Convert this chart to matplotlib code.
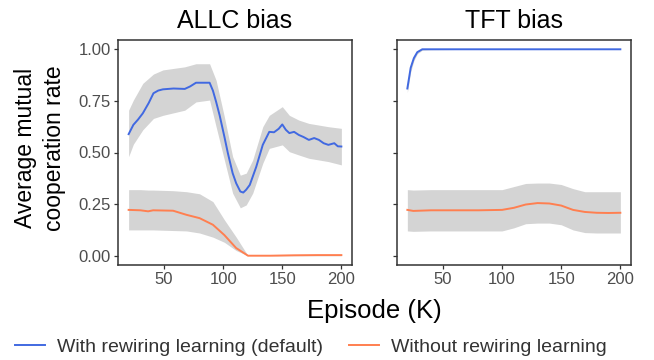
import matplotlib.pyplot as plt
import numpy as np

plt.rcParams['font.family'] = ['Liberation Sans', 'DejaVu Sans']

BLUE = '#4169e1'
ORANGE = '#ff7f50'
RIBBON = '#d4d4d4'

# ALLC bias, with rewiring learning
allc_rw_ep = [20, 24, 28, 32, 37, 41, 45, 49, 58, 67.5, 72, 77, 88.5, 91.3, 94, 97, 101, 104,
              108, 111, 114.5, 117, 119.5, 122.5, 125, 128, 133.5, 139, 143, 147, 150, 153, 156,
              160, 164, 168, 172.5, 177, 181, 185, 189, 194, 197, 200]
allc_rw = [0.589, 0.634, 0.66, 0.69, 0.74, 0.787, 0.80, 0.806, 0.81, 0.808, 0.82, 0.838, 0.838,
           0.80, 0.746, 0.68, 0.577, 0.496, 0.40, 0.351, 0.311, 0.306, 0.32, 0.343, 0.383, 0.431,
           0.537, 0.60, 0.598, 0.615, 0.636, 0.61, 0.594, 0.60, 0.585, 0.575, 0.561, 0.57, 0.561,
           0.545, 0.537, 0.545, 0.53, 0.529]
allc_rw_ep_band = [20, 24, 32, 41, 49, 67.5, 77, 88.5, 94, 101, 108, 114.5, 119.5, 125, 133.5,
                   139, 150, 156, 164, 172.5, 189, 200]
allc_rw_lo = [0.48, 0.54, 0.61, 0.665, 0.68, 0.705, 0.745, 0.754, 0.625, 0.464, 0.303, 0.232,
              0.246, 0.303, 0.448, 0.52, 0.537, 0.504, 0.488, 0.472, 0.456, 0.44]
allc_rw_hi = [0.705, 0.754, 0.835, 0.88, 0.90, 0.915, 0.93, 0.93, 0.85, 0.673, 0.48, 0.39,
              0.40, 0.464, 0.625, 0.68, 0.722, 0.68, 0.657, 0.641, 0.625, 0.617]

# ALLC bias, without rewiring learning
allc_no_ep = [20, 30, 36.5, 40.7, 57.6, 69, 80, 91.3, 101, 111, 121, 140, 160, 180, 200]
allc_no = [0.222, 0.22, 0.215, 0.22, 0.218, 0.198, 0.182, 0.15, 0.10, 0.037, 0.0, 0.0, 0.002,
           0.003, 0.003]
allc_no_lo = [0.125, 0.125, 0.125, 0.125, 0.122, 0.12, 0.11, 0.09, 0.065, 0.025, 0.0, 0.0, 0.0,
              0.0, 0.0]
allc_no_hi = [0.32, 0.32, 0.318, 0.318, 0.315, 0.31, 0.30, 0.262, 0.174, 0.09, 0.0, 0.0, 0.004,
              0.005, 0.005]

# TFT bias, with rewiring learning
tft_rw_ep = [20, 22.8, 25.5, 28.4, 32.6, 40, 60, 100, 150, 200]
tft_rw = [0.81, 0.91, 0.957, 0.986, 1.0, 1.0, 1.0, 1.0, 1.0, 1.0]
tft_rw_lo = [0.79, 0.89, 0.945, 0.978, 0.996, 0.998, 0.999, 0.999, 0.999, 0.999]
tft_rw_hi = [0.83, 0.93, 0.968, 0.994, 1.0, 1.0, 1.0, 1.0, 1.0, 1.0]

# TFT bias, without rewiring learning
tft_no_ep = [20, 25, 40, 60, 80, 100, 110, 120, 130, 140, 150, 160, 170, 180, 190, 200]
tft_no = [0.222, 0.217, 0.22, 0.22, 0.22, 0.222, 0.232, 0.248, 0.255, 0.253, 0.243, 0.222,
          0.212, 0.208, 0.207, 0.208]
tft_no_lo = [0.12, 0.118, 0.12, 0.12, 0.12, 0.12, 0.135, 0.155, 0.158, 0.158, 0.15, 0.125,
             0.112, 0.11, 0.11, 0.11]
tft_no_hi = [0.32, 0.318, 0.32, 0.32, 0.32, 0.32, 0.335, 0.35, 0.352, 0.352, 0.345, 0.325,
             0.31, 0.31, 0.31, 0.31]

titles = ['ALLC bias', 'TFT bias']
x_ticks = [50, 100, 150, 200]
y_ticks = [0.0, 0.25, 0.5, 0.75, 1.0]
y_tick_labels = ['0.00', '0.25', '0.50', '0.75', '1.00']

fig = plt.figure(figsize=(6.54, 3.6), dpi=100)
ax1 = fig.add_axes([118 / 654, 1 - 265 / 360, 234 / 654, 225 / 360])
ax2 = fig.add_axes([396.7 / 654, 1 - 265 / 360, 234.3 / 654, 225 / 360])

# left panel
ax1.fill_between(allc_rw_ep_band, allc_rw_lo, allc_rw_hi, color=RIBBON, lw=0)
ax1.fill_between(allc_no_ep, allc_no_lo, allc_no_hi, color=RIBBON, lw=0)
ax1.plot(allc_rw_ep, allc_rw, color=BLUE, lw=1.4, solid_joinstyle='round')
ax1.plot(allc_no_ep, allc_no, color=ORANGE, lw=1.4, solid_joinstyle='round')

# right panel
ax2.fill_between(tft_rw_ep, tft_rw_lo, tft_rw_hi, color=RIBBON, lw=0)
ax2.fill_between(tft_no_ep, tft_no_lo, tft_no_hi, color=RIBBON, lw=0)
l1, = ax2.plot(tft_rw_ep, tft_rw, color=BLUE, lw=1.4, solid_joinstyle='round')
l2, = ax2.plot(tft_no_ep, tft_no, color=ORANGE, lw=1.4, solid_joinstyle='round')

for ax, t in zip([ax1, ax2], titles):
    ax.set_xlim(11, 209)
    ax.set_ylim(-0.045, 1.045)
    ax.set_xticks(x_ticks)
    ax.set_yticks(y_ticks)
    ax.set_title(t, fontsize=18, pad=9)
    for s in ax.spines.values():
        s.set_color('#333333')
        s.set_linewidth(1.1)
    ax.tick_params(length=3, width=0.9, color='#333333', labelcolor='#4d4d4d',
                   labelsize=12, pad=2)

ax1.set_yticklabels(y_tick_labels)
ax2.set_yticklabels([])

fig.text(40 / 654, 1 - 148 / 360, 'Average mutual\ncooperation rate', rotation=90,
         ha='center', va='center', fontsize=16.5, linespacing=1.3)
fig.text(374 / 654, 1 - 311 / 360, 'Episode (K)', ha='center', va='center', fontsize=18.5)

fig.legend([l1, l2], ['With rewiring learning (default)', 'Without rewiring learning'],
           loc='center', bbox_to_anchor=(311 / 654, 1 - 347 / 360), ncol=2, frameon=False,
           fontsize=14, handlelength=1.55, handletextpad=0.6, columnspacing=1.35,
           labelcolor='#333333', borderpad=0, borderaxespad=0)

fig.savefig('out.png', dpi=100)
